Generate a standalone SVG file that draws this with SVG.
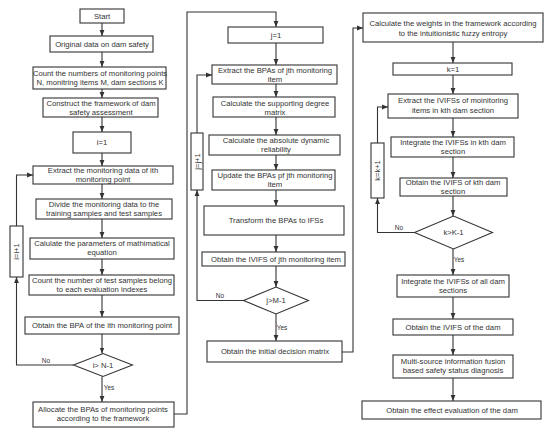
<svg xmlns="http://www.w3.org/2000/svg" width="550" height="434" viewBox="0 0 550 434">
<style>
rect.b{fill:#fff;stroke:#333;stroke-width:1.1}
polygon.d{fill:#fff;stroke:#333;stroke-width:1.1}
text{font-family:"Liberation Sans",Arial,sans-serif;font-size:8px;fill:#333;text-anchor:middle}
text.s{font-size:6.5px}
text.r{font-size:7.5px}
.c path{fill:none;stroke:#333;stroke-width:1.1}
</style>
<defs>
<marker id="ah" viewBox="0 0 10 10" refX="10" refY="5" markerWidth="6" markerHeight="6" orient="auto" markerUnits="userSpaceOnUse"><path d="M0,1 L10,5 L0,9 z" fill="#333"/></marker>
</defs>
<rect width="550" height="434" fill="#fff"/>
<g class="c">
<path d="M102,23 V36" marker-end="url(#ah)"/>
<path d="M102,52 V67" marker-end="url(#ah)"/>
<path d="M102,89 V98" marker-end="url(#ah)"/>
<path d="M102,117 V132" marker-end="url(#ah)"/>
<path d="M102,153 V166" marker-end="url(#ah)"/>
<path d="M102,184 V199" marker-end="url(#ah)"/>
<path d="M102,219 V238" marker-end="url(#ah)"/>
<path d="M102,259 V275" marker-end="url(#ah)"/>
<path d="M102,295 V317" marker-end="url(#ah)"/>
<path d="M102,334 V353.5" marker-end="url(#ah)"/>
<path d="M102,376.5 V402" marker-end="url(#ah)"/>
<path d="M73.5,365 H16.5 V277" marker-end="url(#ah)"/>
<path d="M16.5,226 V175 H33" marker-end="url(#ah)"/>
<path d="M174,414 H187 V12 H276 V27" marker-end="url(#ah)"/>
<path d="M276,43 V65" marker-end="url(#ah)"/>
<path d="M276,84 V97" marker-end="url(#ah)"/>
<path d="M276,117 V135" marker-end="url(#ah)"/>
<path d="M276,155 V170" marker-end="url(#ah)"/>
<path d="M276,190 V206" marker-end="url(#ah)"/>
<path d="M276,235 V252" marker-end="url(#ah)"/>
<path d="M276,266 V287" marker-end="url(#ah)"/>
<path d="M276,314 V341" marker-end="url(#ah)"/>
<path d="M243.5,300.5 H197 V190" marker-end="url(#ah)"/>
<path d="M197,133 V75 H212" marker-end="url(#ah)"/>
<path d="M342,352 H353 V28 H363" marker-end="url(#ah)"/>
<path d="M453,42 V63" marker-end="url(#ah)"/>
<path d="M453,75 V94" marker-end="url(#ah)"/>
<path d="M453,118 V137" marker-end="url(#ah)"/>
<path d="M453,157 V178" marker-end="url(#ah)"/>
<path d="M453,196 V216" marker-end="url(#ah)"/>
<path d="M453,249 V275" marker-end="url(#ah)"/>
<path d="M453,297 V319" marker-end="url(#ah)"/>
<path d="M453,335 V355" marker-end="url(#ah)"/>
<path d="M453,378 V401" marker-end="url(#ah)"/>
<path d="M414.5,232.5 H377.5 V198" marker-end="url(#ah)"/>
<path d="M377.5,143 V107 H388" marker-end="url(#ah)"/>
<text class="s" x="46" y="363">No</text>
<text class="s" x="109" y="390">Yes</text>
<text class="s" x="220" y="298">No</text>
<text class="s" x="282" y="330">Yes</text>
<text class="s" x="399" y="230">No</text>
<text class="s" x="459" y="262">Yes</text>
</g>
<g id="start"><rect class="b" x="80" y="9" width="44" height="14"/><g transform="translate(102 0) scale(.96 1)"><text x="0" y="19">Start</text></g></g>
<g id="original"><rect class="b" x="50" y="36" width="103" height="16"/><g transform="translate(102 0) scale(.96 1)"><text x="0" y="47">Original data on dam safety</text></g></g>
<g id="count"><rect class="b" x="33" y="67" width="133" height="22"/><g transform="translate(100 0) scale(.96 1)"><text x="0" y="76">Count the numbers of monitoring points</text><text x="0" y="85.5">N, monitring items M, dam sections K</text></g></g>
<g id="construct"><rect class="b" x="43" y="98" width="115" height="19"/><g transform="translate(101 0) scale(.96 1)"><text x="0" y="106">Construct the framework of dam</text><text x="0" y="115">safety assessment</text></g></g>
<g id="i1"><rect class="b" x="73" y="132" width="58" height="21"/><g transform="translate(102 0) scale(.96 1)"><text x="0" y="145.5">i=1</text></g></g>
<g id="extract"><rect class="b" x="33" y="166" width="140" height="18"/><g transform="translate(103 0) scale(.96 1)"><text x="0" y="173.5">Extract the monitoring data of ith</text><text x="0" y="182.5">monitoring point</text></g></g>
<g id="divide"><rect class="b" x="36" y="199" width="136" height="20"/><g transform="translate(104 0) scale(.96 1)"><text x="0" y="207">Divide the monitoring data to the</text><text x="0" y="216.5">training samples and test samples</text></g></g>
<g id="calparams"><rect class="b" x="30" y="238" width="144" height="21"/><g transform="translate(102 0) scale(.96 1)"><text x="0" y="246">Calulate the parameters of mathimatical</text><text x="0" y="255.5">equation</text></g></g>
<g id="counttest"><rect class="b" x="29" y="275" width="145" height="20"/><g transform="translate(102 0) scale(.96 1)"><text x="0" y="283">Count the number of test samples belong</text><text x="0" y="292.5">to each evaluation indexes</text></g></g>
<g id="obtainbpa"><rect class="b" x="25" y="317" width="154" height="17"/><g transform="translate(102 0) scale(.96 1)"><text x="0" y="328">Obtain the BPA of the ith monitoring point</text></g></g>
<g id="di"><polygon class="d" points="73.5,365 103,353.5 132.5,365 103,376.5"/><g transform="translate(103 0) scale(.96 1)"><text x="0" y="368">i&gt; N-1</text></g></g>
<g id="ii1"><rect class="b" x="10" y="226" width="13" height="51"/><text class="r" transform="translate(16.5,251.5) rotate(-90)" y="2.7">i=i+1</text></g>
<g id="allocate"><rect class="b" x="33" y="402" width="141" height="25"/><g transform="translate(103 0) scale(.96 1)"><text x="0" y="412">Allocate the BPAs of monitoring points</text><text x="0" y="421.5">according to the framework</text></g></g>
<g id="j1"><rect class="b" x="228" y="27" width="95" height="16"/><g transform="translate(276 0) scale(.96 1)"><text x="0" y="38">j=1</text></g></g>
<g id="extractbpa"><rect class="b" x="212" y="65" width="125" height="19"/><g transform="translate(275 0) scale(.96 1)"><text x="0" y="73">Extract the BPAs of jth monitoring</text><text x="0" y="82">item</text></g></g>
<g id="support"><rect class="b" x="213" y="97" width="122" height="20"/><g transform="translate(275 0) scale(.96 1)"><text x="0" y="106.5">Calculate the supporting degree</text><text x="0" y="115.5">matrix</text></g></g>
<g id="absolute"><rect class="b" x="209" y="135" width="131" height="20"/><g transform="translate(276 0) scale(.96 1)"><text x="0" y="143.5">Calculate the absolute dynamic</text><text x="0" y="152.5">reliability</text></g></g>
<g id="update"><rect class="b" x="212" y="170" width="123" height="20"/><g transform="translate(275 0) scale(.96 1)"><text x="0" y="178">Update the BPAs pf jth monitoring</text><text x="0" y="187.5">item</text></g></g>
<g id="transform"><rect class="b" x="204" y="206" width="140" height="29"/><g transform="translate(276 0) scale(.96 1)"><text x="0" y="223.5">Transform the BPAs to IFSs</text></g></g>
<g id="ivifsj"><rect class="b" x="202" y="252" width="143" height="14"/><g transform="translate(276 0) scale(.96 1)"><text x="0" y="262">Obtain the IVIFS of jth monitoring item</text></g></g>
<g id="dj"><polygon class="d" points="243.5,300.5 276,287 308.5,300.5 276,314"/><g transform="translate(276 0) scale(.96 1)"><text x="0" y="303.5">j&gt;M-1</text></g></g>
<g id="jj1"><rect class="b" x="191" y="133" width="12" height="57"/><text class="r" transform="translate(197,161.5) rotate(-90)" y="2.7">j=j+1</text></g>
<g id="initial"><rect class="b" x="207" y="341" width="135" height="21"/><g transform="translate(275 0) scale(.96 1)"><text x="0" y="354.5">Obtain the initial decision matrix</text></g></g>
<g id="weights"><rect class="b" x="363" y="13" width="180" height="29"/><g transform="translate(453 0) scale(.96 1)"><text x="0" y="26.5">Calculate the weights in the framework according</text><text x="0" y="36">to the intuitionistic fuzzy entropy</text></g></g>
<g id="k1"><rect class="b" x="393" y="63" width="119" height="12"/><g transform="translate(453 0) scale(.96 1)"><text x="0" y="72">k=1</text></g></g>
<g id="extractivifs"><rect class="b" x="388" y="94" width="130" height="24"/><g transform="translate(453 0) scale(.96 1)"><text x="0" y="103.5">Extract the IVIFSs of moinitoring</text><text x="0" y="113.5">items in kth dam section</text></g></g>
<g id="integratek"><rect class="b" x="391" y="137" width="123" height="20"/><g transform="translate(453 0) scale(.96 1)"><text x="0" y="145.5">Integrate the IVIFSs in kth dam</text><text x="0" y="154.5">section</text></g></g>
<g id="ivifsk"><rect class="b" x="400" y="178" width="107" height="18"/><g transform="translate(453 0) scale(.96 1)"><text x="0" y="185.5">Obtain the IVIFS of kth dam</text><text x="0" y="194.5">section</text></g></g>
<g id="dk"><polygon class="d" points="414.5,232.5 453.5,216 492.5,232.5 453.5,249"/><g transform="translate(453.5 0) scale(.96 1)"><text x="0" y="235.5">k&gt;K-1</text></g></g>
<g id="kk1"><rect class="b" x="371" y="143" width="13" height="55"/><text class="r" transform="translate(377.5,170.5) rotate(-90)" y="2.7">k=k+1</text></g>
<g id="integrateall"><rect class="b" x="397" y="275" width="112" height="22"/><g transform="translate(453 0) scale(.96 1)"><text x="0" y="284">Integrate the IVIFSs of all dam</text><text x="0" y="293.5">sections</text></g></g>
<g id="ivifsdam"><rect class="b" x="393" y="319" width="120" height="16"/><g transform="translate(453 0) scale(.96 1)"><text x="0" y="330">Obtain the IVIFS of the dam</text></g></g>
<g id="multi"><rect class="b" x="393" y="355" width="120" height="23"/><g transform="translate(453 0) scale(.96 1)"><text x="0" y="364">Multi-source information fusion</text><text x="0" y="373.5">based safety status diagnosis</text></g></g>
<g id="effect"><rect class="b" x="362" y="401" width="179" height="18"/><g transform="translate(452 0) scale(.96 1)"><text x="0" y="413">Obtain the effect evaluation of the dam</text></g></g>
</svg>
